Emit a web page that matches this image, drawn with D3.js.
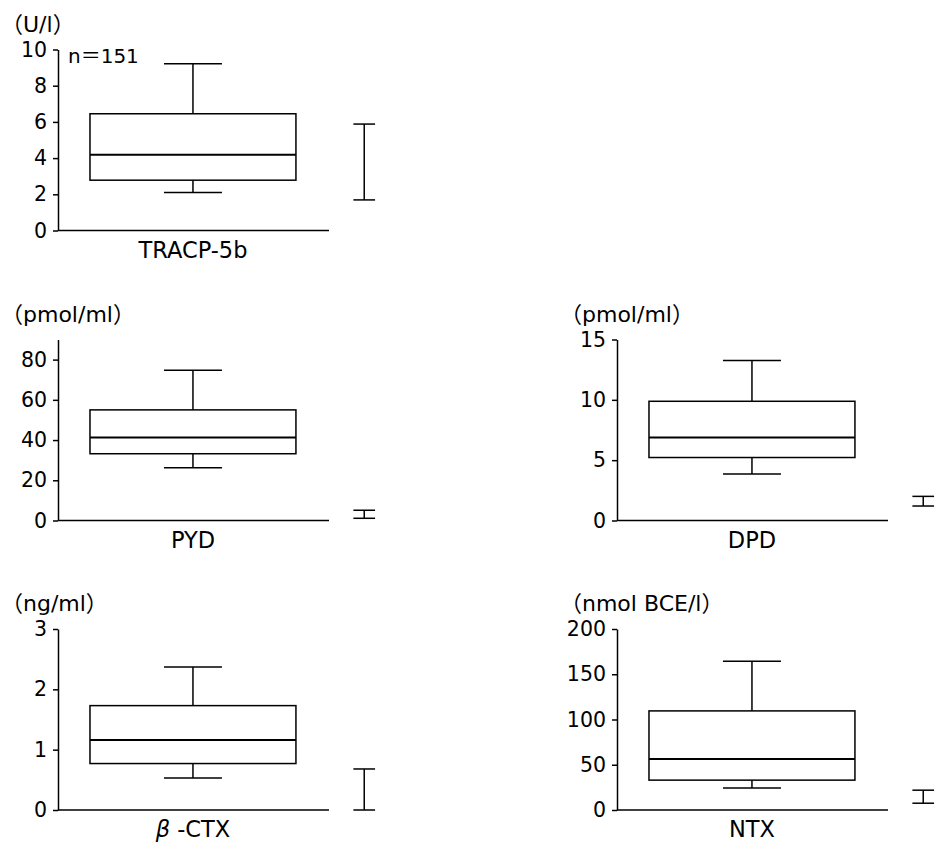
<!DOCTYPE html>
<html>
<head>
<meta charset="utf-8">
<script src="https://cdn.jsdelivr.net/npm/d3@7"></script>
<style>
  body { margin: 0; background: #fff; }
  text { font-family: "DejaVu Sans", "Noto Sans CJK JP", sans-serif; fill: #000; }
</style>
</head>
<body>
<div id="chart"></div>
<script>
// dados
var markers = ["TRACP-5b", "PYD", "DPD", "β-CTX", "NTX"];
var units = ["（U/l）", "（pmol/ml）", "（pmol/ml）", "（ng/ml）", "（nmol BCE/l）"];
var yMax = [10, 90, 15, 3, 200];
var tickValues = [[0, 2, 4, 6, 8, 10], [0, 20, 40, 60, 80], [0, 5, 10, 15], [0, 1, 2, 3], [0, 50, 100, 150, 200]];
var whiskerLow = [2.1, 26.2, 3.86, 0.53, 24.2];
var q1 = [2.78, 33.2, 5.22, 0.77, 33];
var median = [4.18, 41.3, 6.88, 1.16, 56.4];
var q3 = [6.45, 55, 9.88, 1.73, 109.5];
var whiskerHigh = [9.21, 74.7, 13.25, 2.37, 164.4];
var refLow = [1.69, 1.1, 1.2, 0, 7.5];
var refHigh = [5.88, 5.1, 2.0, 0.68, 21.9];
var sampleLabel = "n＝151";

// posição de cada painel (eixo y)
var panelPos = [
  {x: 58, y: 49.5}, {x: 58, y: 339.5}, {x: 617, y: 339.5},
  {x: 58, y: 629}, {x: 617, y: 629}
];
var width = 271, height = 181;

var svg = d3.select("#chart").append("svg")
  .attr("width", 936)
  .attr("height", 843);

// escala horizontal comum: 0..1 é a largura do eixo x
var x = d3.scaleLinear().domain([0, 1]).range([0, width]);
var boxCenter = 0.498, boxHalf = 0.38, capHalf = 0.107;
var refX = 1.13, refCap = 0.04;

markers.forEach(function(name, i) {
  var g = svg.append("g")
    .attr("transform", "translate(" + panelPos[i].x + "," + panelPos[i].y + ")");

  var y = d3.scaleLinear().domain([0, yMax[i]]).range([height, 0]);

  // eixo y
  var ax = g.append("g")
    .call(d3.axisLeft(y).tickValues(tickValues[i]).tickFormat(d3.format("d"))
      .tickSize(5).tickSizeOuter(0).tickPadding(6));
  ax.selectAll("path, line").attr("stroke", "#000").attr("stroke-width", 1.5);
  ax.selectAll("text")
    .style("font-family", "'DejaVu Sans', sans-serif")
    .style("font-size", "20.5px")
    .attr("fill", "#000");

  // eixo x (sem ticks)
  g.append("line")
    .attr("x1", x(0)).attr("x2", x(1))
    .attr("y1", y(0)).attr("y2", y(0))
    .attr("stroke", "#000").attr("stroke-width", 1.5);

  // unidade
  g.append("text")
    .attr("x", -57)
    .attr("y", -18)
    .style("font-size", "22px")
    .text(units[i]);

  // nome do marcador
  var lab = g.append("text")
    .attr("x", x(boxCenter))
    .attr("y", height + 27)
    .attr("text-anchor", "middle")
    .style("font-size", "22.5px");
  if (name.charAt(0) === "β") {
    lab.append("tspan").style("font-style", "italic").text("β ");
    lab.append("tspan").text(name.slice(1));
  } else {
    lab.text(name);
  }

  // whiskers
  var cx = x(boxCenter);
  g.append("line").attr("x1", cx).attr("x2", cx)
    .attr("y1", y(q3[i])).attr("y2", y(whiskerHigh[i]))
    .attr("stroke", "#000").attr("stroke-width", 1.5);
  g.append("line").attr("x1", cx).attr("x2", cx)
    .attr("y1", y(q1[i])).attr("y2", y(whiskerLow[i]))
    .attr("stroke", "#000").attr("stroke-width", 1.5);
  [whiskerHigh[i], whiskerLow[i]].forEach(function(v) {
    g.append("line")
      .attr("x1", x(boxCenter - capHalf)).attr("x2", x(boxCenter + capHalf))
      .attr("y1", y(v)).attr("y2", y(v))
      .attr("stroke", "#000").attr("stroke-width", 1.5);
  });

  // caixa
  g.append("rect")
    .attr("x", x(boxCenter - boxHalf))
    .attr("width", x(boxCenter + boxHalf) - x(boxCenter - boxHalf))
    .attr("y", y(q3[i]))
    .attr("height", y(q1[i]) - y(q3[i]))
    .attr("fill", "#fff")
    .attr("stroke", "#000").attr("stroke-width", 1.5);
  g.append("line")
    .attr("x1", x(boxCenter - boxHalf)).attr("x2", x(boxCenter + boxHalf))
    .attr("y1", y(median[i])).attr("y2", y(median[i]))
    .attr("stroke", "#000").attr("stroke-width", 2);

  // faixa de referência
  g.append("line").attr("x1", x(refX)).attr("x2", x(refX))
    .attr("y1", y(refLow[i])).attr("y2", y(refHigh[i]))
    .attr("stroke", "#000").attr("stroke-width", 1.5);
  [refLow[i], refHigh[i]].forEach(function(v) {
    g.append("line")
      .attr("x1", x(refX - refCap)).attr("x2", x(refX + refCap))
      .attr("y1", y(v)).attr("y2", y(v))
      .attr("stroke", "#000").attr("stroke-width", 1.5);
  });

  if (i === 0) {
    g.append("text")
      .attr("x", 10)
      .attr("y", 13)
      .style("font-size", "20px")
      .text(sampleLabel);
  }
});
</script>
</body>
</html>
